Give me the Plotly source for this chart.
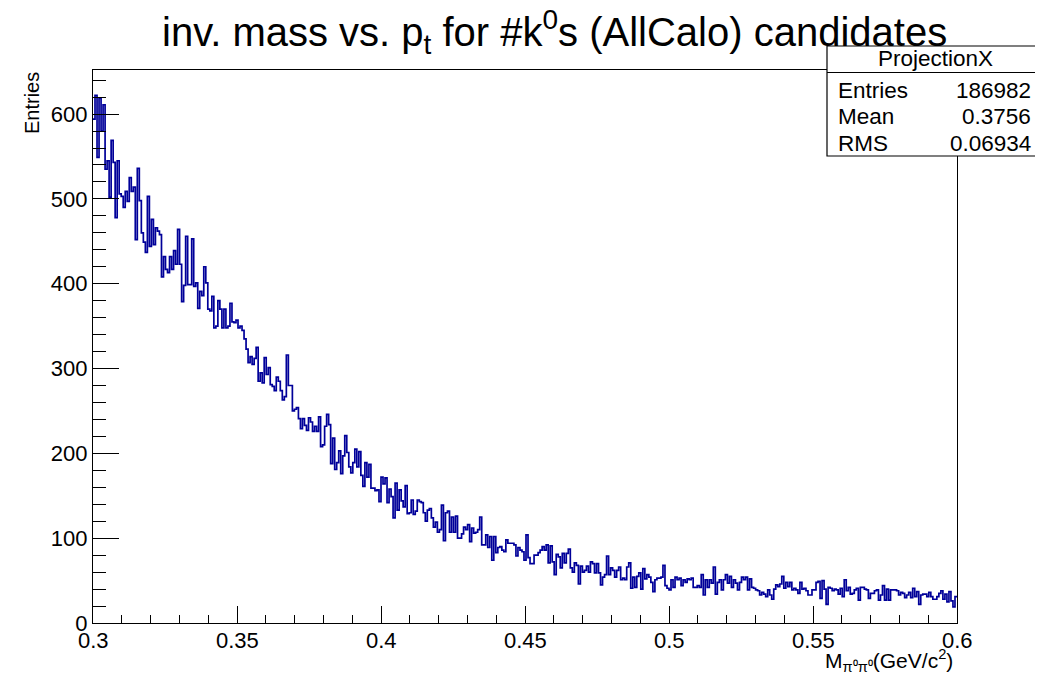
import numpy as np
import plotly.graph_objects as go

# bin contents, left to right (0.3 -> 0.6)
counts_a = [594, 622, 549, 619, 580, 611, 535, 545, 502, 569,
            543, 478, 545, 506, 503, 490, 509, 497, 525, 509,
            514, 452, 536, 498, 460, 449, 437, 503, 444, 476,
            446, 466, 462, 458, 408, 432, 417, 413, 432, 417,
            439, 423, 464, 423, 379, 398, 456, 399, 399, 453,
            397, 401, 371, 391, 386, 420, 401, 370, 368, 385,
            348, 350, 380, 370, 348, 370, 348, 350, 377, 355,
            354, 357, 348, 350, 345, 335]
counts_b = [323, 307, 314, 305, 312, 325, 285, 295, 283, 313,
            293, 301, 281, 279, 274, 290, 285, 274, 263, 267,
            316, 280, 280, 250, 252]
counts_c = [254, 241, 229, 241, 233, 227, 242, 237, 226, 232,
            226, 243, 208, 210, 232, 246, 234, 188, 218, 181,
            189, 203, 176, 197, 221, 201, 184, 177, 189, 205,
            184, 202, 174, 161, 189, 172, 187, 159, 159, 156,
            157, 143, 172, 164, 171, 142, 158, 149, 124, 165,
            133, 157, 144, 137, 162, 129, 130, 145, 128, 132,
            145, 143, 142, 130, 120, 133, 135, 124]
counts_d = [113, 119, 107, 110, 139, 97, 130, 132, 107, 125,
            107, 126, 100, 100, 105, 113, 110, 116, 96, 112,
            106, 107, 110, 125, 92, 92, 104, 89, 102, 74,
            102, 83, 89, 90, 86, 84, 98, 94, 94, 94,
            92, 79, 89, 86, 84, 74, 104, 77, 70, 70,
            80, 80, 83, 86, 90, 86, 92, 71, 91, 72,
            57, 81, 78, 65, 82, 71, 82, 87, 65, 60,
            71, 68, 46, 67, 60, 62, 67, 60, 72, 70,
            59, 70, 59, 45, 54, 57, 79, 57, 65, 62,
            54, 62]
counts_e = [66, 51, 53, 51, 66, 71, 41, 54, 42, 55,
            59, 40, 64, 52, 57, 54, 48, 37, 51, 53,
            53, 54, 68, 44, 41, 39, 51, 42, 54, 51,
            53, 44, 51, 48, 52, 51, 53, 42, 42, 44,
            42, 57, 33, 51, 42, 51, 47, 66, 34, 48,
            51, 39, 51, 57, 47, 55, 42, 51, 47, 39,
            48, 54, 51, 54, 39, 52, 42, 41, 39, 38,
            33, 36, 34, 31, 39, 33, 28, 40, 45, 43,
            46, 55, 41, 48, 43, 48, 39, 41, 39, 35]
counts_f = [48, 40, 41, 38, 33, 33, 39, 39, 48, 49,
            29, 50, 40, 22, 42, 41, 38, 40, 39, 34,
            41, 31, 51, 38, 42, 34, 35, 39, 41, 27,
            42, 42, 40, 39, 29, 35, 35, 38, 39, 27,
            33, 44, 27, 40, 27, 39, 39, 39, 38, 33,
            36, 35, 30, 33, 36, 30, 41, 31, 37, 22,
            33, 34, 34, 31, 36, 31, 28, 28, 31, 35,
            38, 28, 34, 25, 37, 26, 19, 31]

x_lo, x_hi = 0.3, 0.6
x_ticks = [0.3, 0.35, 0.4, 0.45, 0.5, 0.55, 0.6]
x_ticktext = ["0.3", "0.35", "0.4", "0.45", "0.5", "0.55", "0.6"]
y_ticks = [0, 100, 200, 300, 400, 500, 600]

stat_names = ["Entries", "Mean", "RMS"]
stat_values = ["186982", "0.3756", "0.06934"]

counts = counts_a + counts_b + counts_c + counts_d + counts_e + counts_f
edges = np.linspace(x_lo, x_hi, len(counts) + 1)

FONT = "Liberation Sans, Arial, Helvetica, sans-serif"
OFF = 8  # page body margin: the figure sits 8px in from the corner

fig = go.Figure()
fig.add_trace(go.Scatter(
    x=edges, y=counts + [counts[-1]],
    mode="lines", line=dict(color="#000099", width=1.7, shape="hv"),
    hoverinfo="skip", showlegend=False))

fig.update_layout(
    width=1043 - OFF, height=680 - OFF,
    margin=dict(l=93 - OFF, r=1043 - 957, t=70 - OFF, b=680 - 623),
    paper_bgcolor="white", plot_bgcolor="white",
    font=dict(family=FONT, size=22, color="black"),
    xaxis=dict(range=[x_lo, x_hi], tickvals=x_ticks, showticklabels=False,
               ticks="inside", ticklen=17, tickwidth=1, tickcolor="black",
               minor=dict(dtick=0.01, tick0=0.3, ticks="inside", ticklen=8,
                          tickcolor="black", tickwidth=1),
               showline=True, linecolor="black", linewidth=1.3, mirror=True,
               showgrid=False, zeroline=False),
    yaxis=dict(range=[0, 652], tickvals=y_ticks,
               ticks="inside", ticklen=26, tickwidth=1, tickcolor="black",
               minor=dict(dtick=20, tick0=0, ticks="inside", ticklen=13,
                          tickcolor="black", tickwidth=1),
               showline=True, linecolor="black", linewidth=1.3, mirror=True,
               showgrid=False, zeroline=False, tickfont=dict(size=22)),
)

# helpers: page pixel -> paper coords
def px(x):
    return (x - 93) / 864.0

def py(y):
    return (623 - y) / 553.0

# x tick labels, placed tight under the axis like ROOT does
for v, t in zip(x_ticks, x_ticktext):
    fig.add_annotation(text=t, x=v, y=py(626), xref="x", yref="paper",
                       xanchor="center", yanchor="top", showarrow=False,
                       font=dict(size=22))

# title
fig.add_annotation(text="inv. mass vs. p<sub>t</sub> for #k<sup>0</sup>s (AllCalo) candidates",
                   x=px(554), y=py(32), xref="paper", yref="paper",
                   xanchor="center", yanchor="middle", showarrow=False,
                   font=dict(size=40))

# axis titles
fig.add_annotation(text="Entries", x=px(32), y=py(70), xref="paper", yref="paper",
                   xanchor="center", yanchor="top", textangle=-90, showarrow=False,
                   font=dict(size=20))
fig.add_annotation(text="M<sub>π⁰π⁰</sub>(GeV/c<sup>2</sup>)", x=px(955), y=py(660),
                   xref="paper", yref="paper", xanchor="right", yanchor="middle",
                   showarrow=False, font=dict(size=21))

# stats box
fig.add_shape(type="rect", xref="paper", yref="paper",
              x0=px(827), x1=px(1041), y0=py(156), y1=py(46),
              line=dict(color="black", width=1.2), fillcolor="white", layer="above")
fig.add_shape(type="line", xref="paper", yref="paper",
              x0=px(827), x1=px(1041), y0=py(72.5), y1=py(72.5),
              line=dict(color="black", width=1.2), layer="above")
fig.add_annotation(text="ProjectionX", x=px(935), y=py(59), xref="paper", yref="paper",
                   xanchor="center", yanchor="middle", showarrow=False, font=dict(size=22.5))
for i, (name, val) in enumerate(zip(stat_names, stat_values)):
    yy = py(90 + 26.5 * i)
    fig.add_annotation(text=name, x=px(836), y=yy, xref="paper", yref="paper",
                       xanchor="left", yanchor="middle", showarrow=False, font=dict(size=22.5))
    fig.add_annotation(text=val, x=px(1033), y=yy, xref="paper", yref="paper",
                       xanchor="right", yanchor="middle", showarrow=False, font=dict(size=22.5))

fig.write_html("out.html")
